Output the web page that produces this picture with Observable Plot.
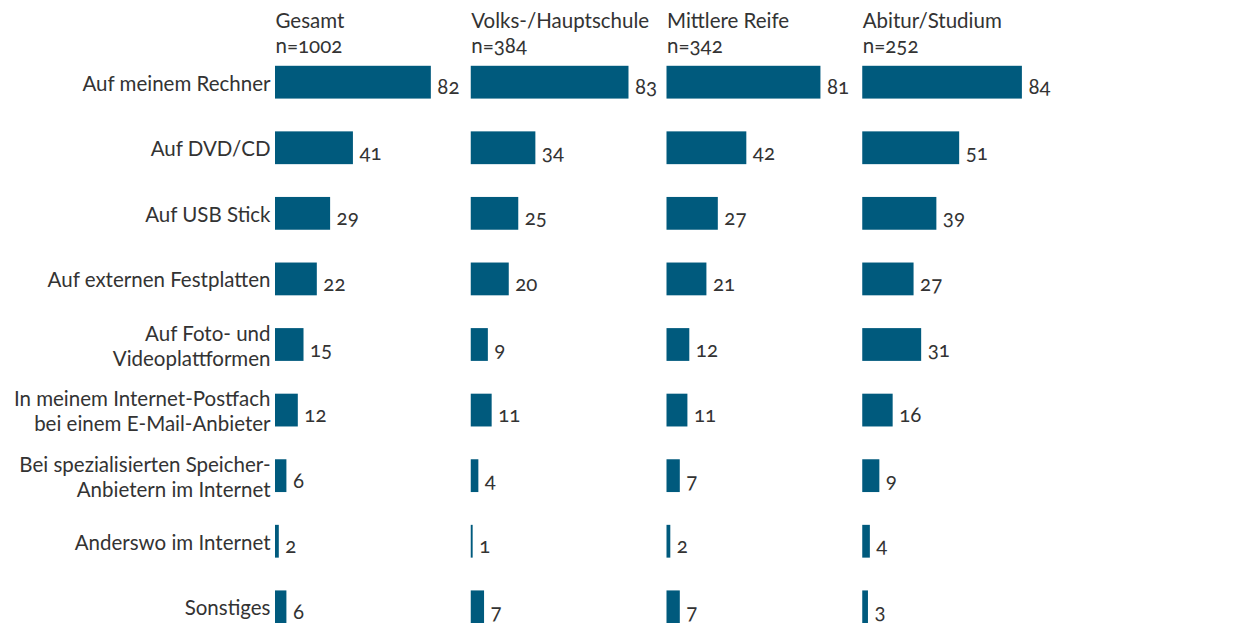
<!DOCTYPE html>
<html>
<head>
<meta charset="utf-8">
<script src="https://cdn.jsdelivr.net/npm/d3@7"></script>
<script src="https://cdn.jsdelivr.net/npm/@observablehq/plot@0.6"></script>
<style>
  html, body { margin: 0; padding: 0; background: #fff; overflow: hidden; }
  svg text { font-variant-numeric: oldstyle-nums; }
</style>
</head>
<body>
<div id="chart"></div>
<script>
const categories = [
  "Auf meinem Rechner",
  "Auf DVD/CD",
  "Auf USB Stick",
  "Auf externen Festplatten",
  "Auf Foto- und\nVideoplattformen",
  "In meinem Internet-Postfach\nbei einem E-Mail-Anbieter",
  "Bei spezialisierten Speicher-\nAnbietern im Internet",
  "Anderswo im Internet",
  "Sonstiges"
];
const groups = ["Gesamt", "Volks-/Hauptschule", "Mittlere Reife", "Abitur/Studium"];
const groupN = ["n=1002", "n=384", "n=342", "n=252"];
const gesamt = [82, 41, 29, 22, 15, 12, 6, 2, 6];
const volks = [83, 34, 25, 20, 9, 11, 4, 1, 7];
const mittlere = [81, 42, 27, 21, 12, 11, 7, 2, 7];
const abitur = [84, 51, 39, 27, 31, 16, 9, 4, 3];

const series = [gesamt, volks, mittlere, abitur];
const data = [];
series.forEach((vals, gi) => vals.forEach((v, ci) => data.push({group: groups[gi], cat: categories[ci], value: v})));
const headers = groups.map((g, i) => ({group: g, text: g + "\n" + groupN[i]}));

const color = "#005a7d";
const ink = "#333333";
const fs = 20.5;

const chart = Plot.plot({
  width: 1238,
  height: 657,
  marginLeft: 275,
  marginRight: 180,
  marginTop: 33,
  marginBottom: 1,
  style: {fontFamily: "Lato, sans-serif", fontSize: fs + "px", color: ink, background: "#fff"},
  fx: {domain: groups, axis: null, padding: 0, round: false},
  x: {domain: [0, 103], axis: null},
  y: {domain: categories, axis: null, padding: 0.5, round: false},
  marks: [
    Plot.barX(data, {fx: "group", y: "cat", x: "value", fill: color}),
    Plot.text(data, {fx: "group", y: "cat", x: "value", text: d => String(d.value), textAnchor: "start", dx: 6, dy: 5, fill: ink, fontSize: fs}),
    Plot.text(headers, {fx: "group", text: "text", frameAnchor: "top-left", textAnchor: "start", lineAnchor: "top", dy: -22.5, lineHeight: 1.2, fill: ink, fontSize: fs}),
    Plot.axisY({tickSize: 0, tickPadding: 5, lineHeight: 1.22, fontSize: fs, fill: ink, label: null})
  ]
});
document.getElementById("chart").appendChild(chart);
</script>
</body>
</html>
